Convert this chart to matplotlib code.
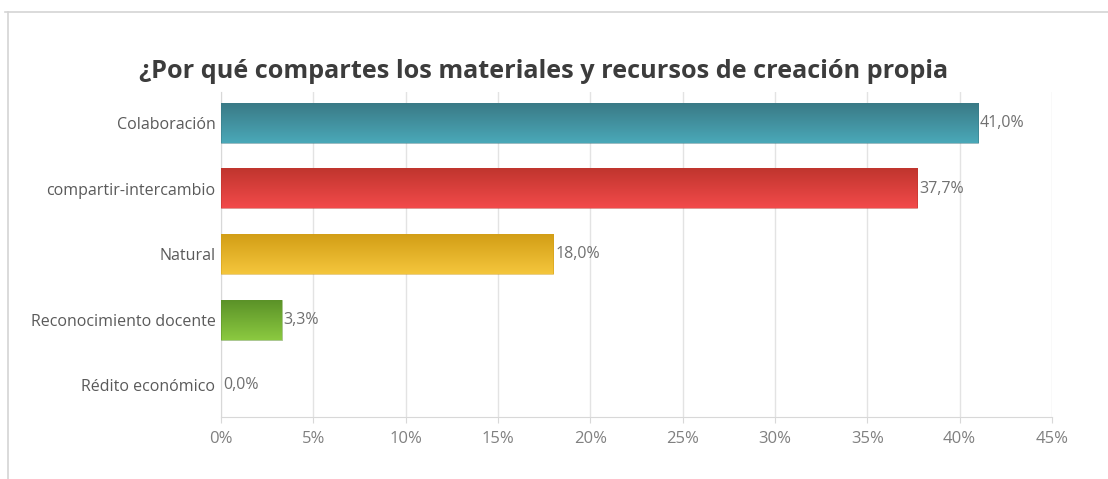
import matplotlib
matplotlib.use("Agg")
import matplotlib.pyplot as plt
import numpy as np
from matplotlib.lines import Line2D
from matplotlib.colors import LinearSegmentedColormap

categories = ["Colaboración", "compartir-intercambio", "Natural", "Reconocimiento docente", "Rédito económico"]
values = [41.0, 37.7, 18.0, 3.3, 0.0]
value_labels = ["41,0%", "37,7%", "18,0%", "3,3%", "0,0%"]
xticks = [0, 5, 10, 15, 20, 25, 30, 35, 40, 45]
xtick_labels = ["0%", "5%", "10%", "15%", "20%", "25%", "30%", "35%", "40%", "45%"]
top_colors = ["#3a7a86", "#c0352e", "#d39e16", "#5b9228"]
bottom_colors = ["#4aa8b8", "#f24a4a", "#f4c63c", "#8bc940"]
title = "¿Por qué compartes los materiales y recursos de creación propia"

plt.rcParams['font.family'] = ['Open Sans', 'DejaVu Sans']

fig = plt.figure(figsize=(11.08, 4.79), dpi=100)
ax = fig.add_axes([221/1108, 1-417/479, (1052-221)/1108, (417-92)/479])

h = 0.6
for i, v in enumerate(values):
    if v <= 0:
        continue
    cmap = LinearSegmentedColormap.from_list("g", [top_colors[i % 4], bottom_colors[i % 4]])
    grad = np.linspace(0, 1, 64).reshape(-1, 1)
    ax.imshow(grad, extent=(0, v, i + h/2, i - h/2), aspect='auto', cmap=cmap,
              origin='upper', zorder=3, interpolation='bilinear')
    ax.add_patch(plt.Rectangle((0, i - h/2), v, h, fill=False, edgecolor=top_colors[i % 4],
                               linewidth=0.6, zorder=4, alpha=0.6))

for i, (v, lab) in enumerate(zip(values, value_labels)):
    ax.text(v + 0.1, i, lab, va='center', ha='left', fontsize=11.5, color='#707070', zorder=5)

ax.set_xlim(0, 45)
ax.set_ylim(4.48, -0.47)
ax.set_yticks(range(len(categories)))
ax.set_yticklabels(categories, fontsize=11.5, color='#5a5a5a')
ax.set_xticks(xticks)
ax.set_xticklabels(xtick_labels, fontsize=12, color='#808080')
ax.tick_params(axis='y', length=0, pad=4)
ax.tick_params(axis='x', length=4, color='#d8d8d8', pad=6)
ax.grid(axis='x', color='#e3e3e3', linewidth=1, zorder=0)
ax.set_axisbelow(True)
for s in ['top', 'right']:
    ax.spines[s].set_visible(False)
ax.spines['left'].set_color('#d8d8d8')
ax.spines['bottom'].set_color('#d8d8d8')

fig.text(544/1108, 1-72/479, title, ha='center', va='center', fontsize=18.2,
         fontweight='bold', color='#3c3c3c')

fig.add_artist(Line2D([5/1108, 1], [1-12/479, 1-12/479], color='#d4d4d4', linewidth=1.2))
fig.add_artist(Line2D([8/1108, 8/1108], [0, 1-12/479], color='#d4d4d4', linewidth=1.2))

fig.savefig("out.png", dpi=100)
